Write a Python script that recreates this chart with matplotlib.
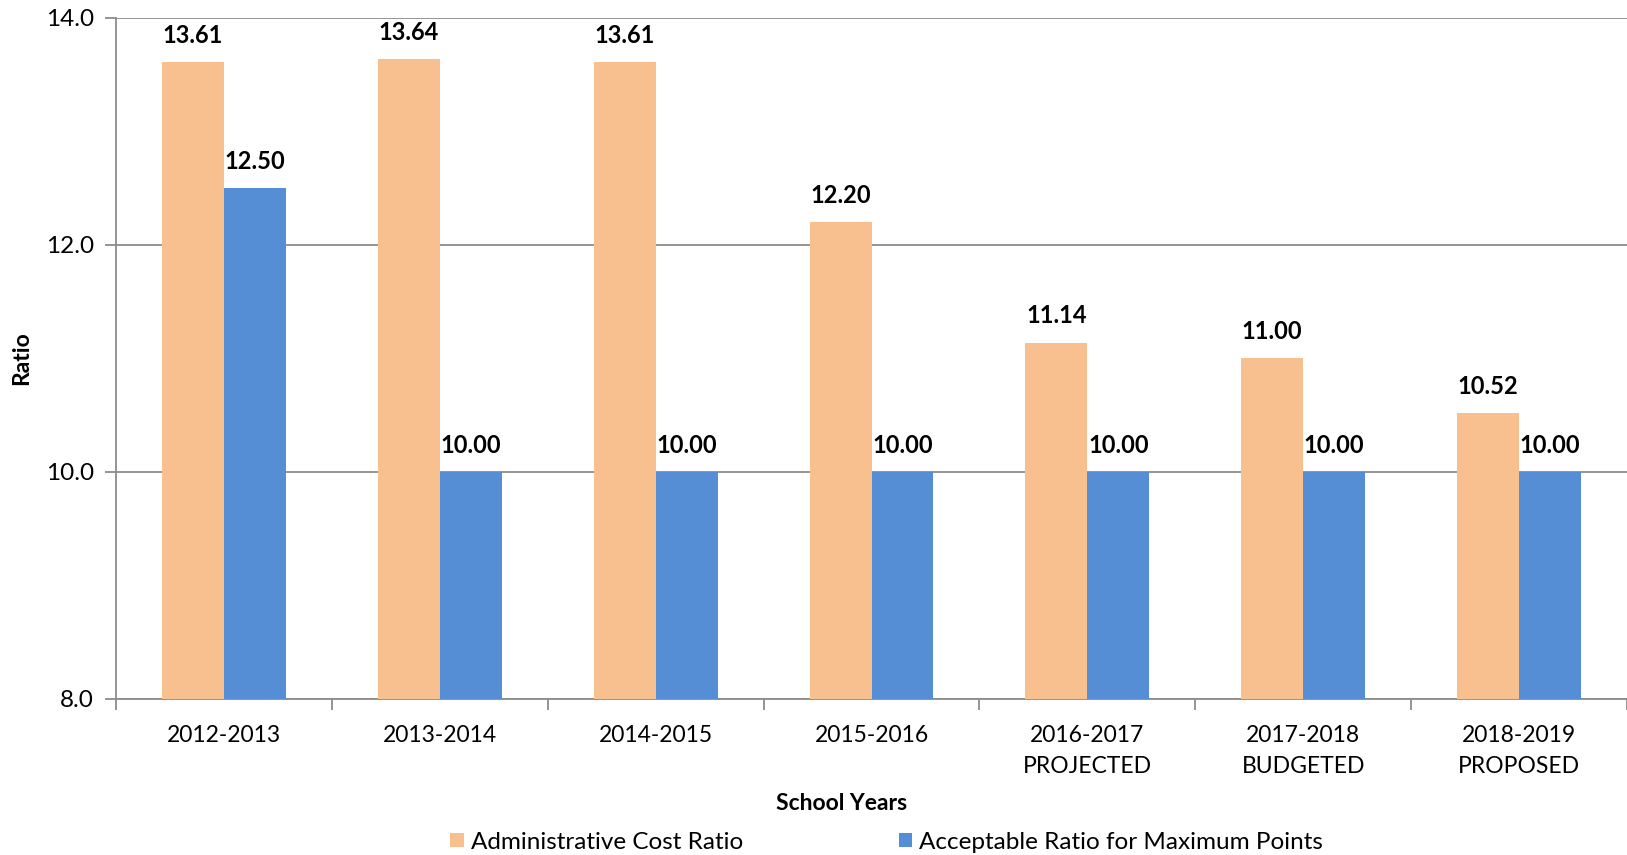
import matplotlib
matplotlib.use("Agg")
import matplotlib.pyplot as plt
import numpy as np

plt.rcParams['font.family'] = ['Lato', 'DejaVu Sans']

years = ["2012-2013", "2013-2014", "2014-2015", "2015-2016",
         "2016-2017\nPROJECTED", "2017-2018\nBUDGETED", "2018-2019\nPROPOSED"]
admin_ratio = [13.61, 13.64, 13.61, 12.20, 11.14, 11.00, 10.52]
acceptable_ratio = [12.50, 10.00, 10.00, 10.00, 10.00, 10.00, 10.00]

ORANGE = '#F9C08F'
BLUE = '#558ED5'
GRAY = '#8C8C8C'


def label_bars(ax, bars, values):
    for b, v in zip(bars, values):
        ax.annotate(f"{v:.2f}", (b.get_x() + b.get_width() / 2, v),
                    xytext=(0, 11), textcoords='offset points',
                    ha='center', va='bottom', fontsize=17, fontweight='bold')


def main():
    fig = plt.figure(figsize=(16.27, 8.55), dpi=100)
    ax = fig.add_axes([0.0713, 0.1825, 0.9287, 0.7965])

    x = np.arange(len(years))
    w = 0.287
    b1 = ax.bar(x - w / 2, [v - 8 for v in admin_ratio], w, bottom=8,
                color=ORANGE, label='Administrative Cost Ratio', zorder=3)
    b2 = ax.bar(x + w / 2, [v - 8 for v in acceptable_ratio], w, bottom=8,
                color=BLUE, label='Acceptable Ratio for Maximum Points', zorder=3)
    label_bars(ax, b1, admin_ratio)
    label_bars(ax, b2, acceptable_ratio)

    ax.set_xlim(-0.5, len(years) - 0.5)
    ax.set_ylim(8, 14)
    ax.set_yticks([8, 10, 12, 14])
    ax.set_yticklabels([f"{t:.1f}" for t in [8, 10, 12, 14]], fontsize=17.5)
    ax.yaxis.grid(True, color=GRAY, linewidth=1.3, zorder=0)

    ax.set_xticks(x)
    ax.set_xticklabels(years, fontsize=16.5, linespacing=1.55)
    ax.set_xticks(np.arange(len(years) + 1) - 0.5, minor=True)
    ax.tick_params(axis='x', which='major', length=0, pad=19)
    ax.tick_params(axis='x', which='minor', length=8, color=GRAY, width=1.3)
    ax.tick_params(axis='y', length=8, color=GRAY, width=1.3, pad=8)

    for s in ['top', 'right']:
        ax.spines[s].set_visible(False)
    for s in ['left', 'bottom']:
        ax.spines[s].set_color(GRAY)
        ax.spines[s].set_linewidth(1.3)

    ax.set_xlabel('School Years', fontsize=16.5, fontweight='bold', labelpad=12)
    ax.xaxis.label.set_x(0.48)
    ax.set_ylabel('Ratio', fontsize=16.5, fontweight='bold', labelpad=10)

    fig.legend(handles=[b1, b2], loc='center', bbox_to_anchor=(0.545, 0.015),
               ncol=2, frameon=False, fontsize=17.5, handlelength=0.55,
               handleheight=0.55, handletextpad=0.3, columnspacing=6.4)

    fig.savefig('out.png', dpi=100)


if __name__ == "__main__":
    main()
